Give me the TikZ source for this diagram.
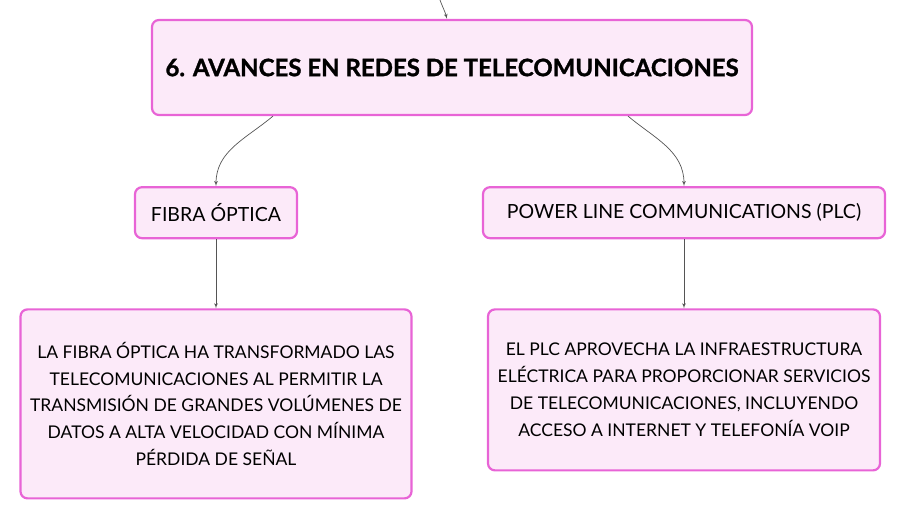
\documentclass[tikz,border=0pt]{standalone}
\usepackage{fontspec}
\setmainfont{Lato}
\newfontfamily\titlefont[FakeBold=1.2]{Lato}
\usepackage{xcolor}
\usepackage{tikz}
\usetikzlibrary{shapes.geometric, arrows, positioning}

\definecolor{pinkline}{RGB}{232,100,214}
\definecolor{pinkfill}{RGB}{252,234,249}
\definecolor{edgegray}{RGB}{85,85,85}

\begin{document}
\begin{tikzpicture}[x=1pt, y=1pt, auto,
        topic/.style={rectangle, draw=pinkline, fill=pinkfill, line width=2.2pt, rounded corners=7pt, text centered, minimum width=600pt, minimum height=95pt, font=\titlefont\fontsize{24}{28}\selectfont\bfseries},
        sub/.style={rectangle, draw=pinkline, fill=pinkfill, line width=2.2pt, rounded corners=7pt, text centered, minimum height=51pt, font=\fontsize{19.5}{23}\selectfont},
        textblock/.style={rectangle, draw=pinkline, fill=pinkfill, line width=2.2pt, rounded corners=7pt, align=center, font=\fontsize{17.5}{26.8}\selectfont},
        line/.style={draw=edgegray, -latex', line width=0.7pt}]

        \useasboundingbox (0,0) rectangle (906,-521);

        % Nodes
        \coordinate (root) at (440,0);
        \node [topic] (title) at (452,-67.5) {6. AVANCES EN REDES DE TELECOMUNICACIONES};
        \node [sub, minimum width=162pt, below=70pt of title, xshift=-236pt] (fibra) {FIBRA ÓPTICA};
        \node [sub, minimum width=402pt, below=70pt of title, xshift=232pt] (plc) {POWER LINE COMMUNICATIONS (PLC)};
        \node [textblock, minimum width=391pt, minimum height=189pt, below=69pt of fibra] (fibratext) {LA FIBRA ÓPTICA HA TRANSFORMADO LAS\\TELECOMUNICACIONES AL PERMITIR LA\\TRANSMISIÓN DE GRANDES VOLÚMENES DE\\DATOS A ALTA VELOCIDAD CON MÍNIMA\\PÉRDIDA DE SEÑAL};
        \node [textblock, minimum width=392pt, minimum height=161pt, below=69pt of plc] (plctext) {EL PLC APROVECHA LA INFRAESTRUCTURA\\ELÉCTRICA PARA PROPORCIONAR SERVICIOS\\DE TELECOMUNICACIONES, INCLUYENDO\\ACCESO A INTERNET Y TELEFONÍA VOIP};

        % Edges
        \path [line] (root) to[out=-70, in=105] ([xshift=-5pt]title.north);
        \path [line] ([xshift=-179pt]title.south) to[out=-140, in=90] (fibra.north);
        \path [line] ([xshift=176pt]title.south) to[out=-40, in=90] (plc.north);
        \path [line] (fibra) -- (fibratext);
        \path [line] (plc) -- (plctext);

    \end{tikzpicture}
\end{document}
